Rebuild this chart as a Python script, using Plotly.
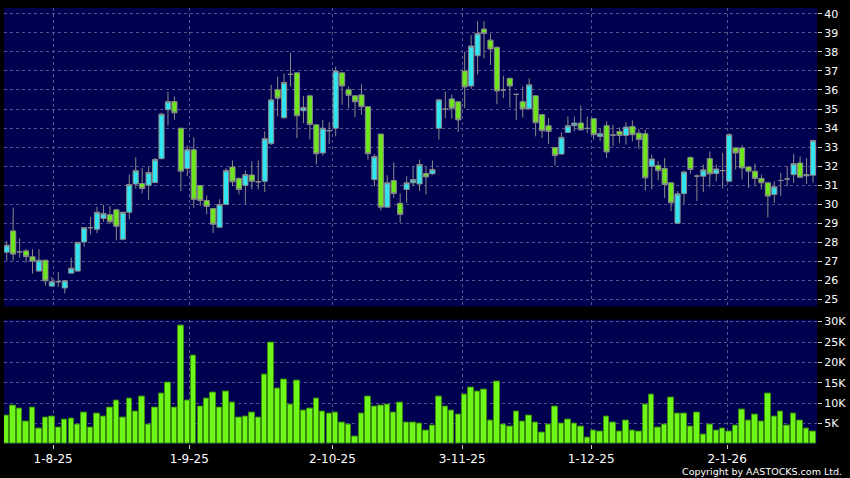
import plotly.graph_objects as go

# ---------------- data ----------------
open_ = [27.47, 28.59, 27.49, 27.54, 27.23, 26.48, 27.05, 25.69, 25.92, 25.59,
         26.37, 26.48, 28.01, 28.76, 28.68, 29.25, 29.44, 29.70, 28.15, 29.57,
         31.06, 31.08, 30.99, 31.14, 32.39, 34.96, 35.39, 33.99, 31.87, 32.86,
         30.98, 30.19, 29.77, 28.78, 29.98, 31.95, 31.35, 30.98, 31.53, 31.17,
         31.20, 33.18, 36.01, 34.54, 36.82, 36.90, 34.91, 35.69, 34.17, 32.69,
         33.86, 33.99, 36.90, 36.01, 35.69, 35.74, 35.12, 31.29, 33.68, 29.84,
         31.24, 30.04, 30.77, 31.12, 31.06, 31.61, 31.59, 33.99, 34.99, 35.53,
         35.38, 37.00, 36.21, 37.80, 39.20, 38.62, 38.24, 36.00, 36.61, 35.77,
         35.38, 35.01, 35.69, 34.70, 34.12, 32.98, 32.63, 33.77, 34.12, 34.26,
         33.98, 34.49, 33.56, 34.12, 33.63, 33.82, 33.61, 34.08, 33.73, 33.70,
         31.99, 32.03, 31.87, 31.12, 28.99, 30.56, 32.45, 31.47, 31.47, 32.39,
         31.61, 31.76, 31.20, 32.95, 32.95, 31.95, 31.73, 31.35, 31.12, 30.51,
         31.24, 31.32, 31.55, 32.16, 31.49, 31.52]
high = [28.06, 29.81, 28.20, 27.64, 27.63, 27.63, 27.08, 26.18, 26.44, 26.00,
        27.19, 28.00, 28.78, 29.32, 29.86, 29.95, 29.91, 29.75, 29.60, 31.55,
        32.46, 31.90, 31.97, 32.42, 34.80, 35.92, 35.65, 34.00, 33.09, 33.51,
        31.00, 30.46, 29.80, 30.26, 31.90, 32.29, 31.40, 31.78, 32.25, 32.29,
        33.82, 36.27, 36.70, 36.87, 37.96, 36.95, 35.69, 35.75, 34.20, 34.43,
        34.31, 37.23, 36.95, 36.18, 35.72, 36.30, 35.15, 32.63, 33.70, 31.52,
        32.20, 30.56, 31.47, 31.99, 32.34, 31.99, 32.29, 35.53, 35.92, 35.77,
        35.40, 38.01, 38.88, 39.62, 39.62, 38.97, 38.30, 36.75, 36.65, 35.80,
        36.18, 36.61, 35.72, 34.75, 34.52, 33.00, 33.77, 34.61, 34.61, 35.18,
        34.61, 34.50, 33.99, 34.35, 34.17, 34.03, 34.31, 34.40, 33.94, 33.91,
        32.60, 32.25, 32.42, 31.15, 30.68, 31.76, 32.51, 31.55, 32.08, 32.77,
        32.08, 32.69, 33.73, 33.00, 33.09, 32.00, 32.13, 31.55, 31.15, 31.20,
        31.64, 31.99, 32.63, 32.51, 32.42, 33.39]
low = [27.02, 27.02, 27.19, 26.93, 26.35, 26.45, 25.71, 25.65, 25.65, 25.30,
       26.35, 26.45, 27.76, 28.41, 28.47, 29.07, 28.95, 28.10, 28.10, 29.20,
       30.82, 30.56, 30.23, 31.10, 32.35, 34.14, 34.43, 30.68, 31.47, 29.81,
       29.90, 29.46, 28.48, 28.75, 29.95, 30.94, 30.51, 30.02, 30.77, 30.77,
       30.64, 33.10, 34.61, 34.50, 36.18, 33.47, 34.26, 33.39, 32.08, 32.55,
       33.16, 33.56, 35.22, 35.04, 34.57, 34.70, 32.34, 30.94, 29.67, 29.81,
       30.33, 29.02, 30.07, 30.94, 30.68, 30.51, 31.55, 33.39, 34.52, 34.49,
       33.79, 35.04, 36.06, 36.82, 37.66, 37.31, 35.25, 35.57, 35.08, 34.43,
       34.55, 34.98, 33.56, 33.47, 33.16, 32.03, 32.60, 33.74, 33.82, 33.85,
       33.73, 33.39, 33.30, 32.42, 33.04, 33.21, 33.13, 33.30, 32.90, 30.72,
       30.77, 31.26, 30.33, 29.63, 28.97, 30.02, 31.59, 30.16, 30.64, 30.89,
       31.20, 30.82, 31.15, 31.82, 31.29, 30.85, 30.94, 30.77, 29.28, 30.07,
       30.42, 30.94, 31.12, 31.38, 31.06, 31.12]
close = [27.84, 27.37, 27.49, 27.24, 27.00, 27.05, 25.97, 25.92, 25.92, 25.97,
         26.63, 27.99, 28.76, 28.76, 29.57, 29.51, 29.07, 28.83, 29.57, 31.03,
         31.76, 30.82, 31.66, 32.34, 34.73, 35.39, 34.80, 31.73, 32.86, 30.25,
         30.19, 29.88, 28.94, 29.98, 31.76, 31.17, 30.77, 31.55, 31.20, 31.17,
         33.44, 35.48, 35.57, 36.39, 36.82, 34.64, 35.08, 34.19, 32.65, 33.99,
         33.86, 37.00, 36.21, 35.72, 35.38, 35.12, 32.65, 32.50, 29.84, 31.12,
         30.56, 29.46, 31.12, 31.29, 32.08, 31.43, 31.82, 35.48, 34.99, 35.04,
         34.43, 36.16, 38.31, 38.97, 38.97, 38.15, 35.95, 36.00, 36.21, 35.77,
         35.01, 36.27, 34.28, 33.86, 33.82, 32.55, 33.51, 34.12, 34.26, 33.91,
         33.98, 33.65, 33.70, 32.74, 33.63, 33.61, 34.05, 33.65, 33.39, 31.38,
         32.37, 31.76, 31.03, 30.07, 30.54, 31.69, 31.82, 31.47, 31.80, 31.59,
         31.85, 31.76, 33.65, 32.69, 31.90, 31.73, 31.35, 31.12, 30.42, 30.91,
         31.24, 31.32, 32.13, 31.41, 31.55, 33.34]
volume_k = [6.95, 9.47, 8.58, 5.41, 8.98, 3.78, 6.38, 6.71, 4.10, 6.06,
            6.22, 4.67, 7.60, 4.02, 7.44, 6.79, 8.82, 10.53, 6.55, 11.10,
            7.93, 11.75, 4.84, 8.82, 12.40, 15.00, 8.98, 29.15, 10.53, 21.75,
            9.23, 11.02, 12.72, 8.90, 12.80, 10.12, 6.38, 6.63, 7.77, 6.38,
            16.95, 24.92, 13.54, 15.73, 9.71, 15.57, 8.25, 8.66, 11.02, 7.85,
            7.51, 7.68, 5.24, 4.67, 1.83, 7.44, 11.67, 9.15, 9.47, 9.63,
            7.68, 10.04, 5.24, 5.24, 4.92, 3.37, 4.59, 11.59, 9.23, 8.25,
            7.11, 12.15, 13.94, 12.89, 13.29, 5.73, 15.24, 4.76, 4.19, 7.85,
            5.49, 7.03, 5.24, 2.73, 4.76, 9.07, 5.08, 5.98, 5.00, 4.27,
            1.59, 3.22, 3.05, 6.71, 5.16, 2.97, 5.66, 3.22, 2.97, 9.56,
            12.07, 4.02, 4.76, 11.34, 7.37, 7.44, 4.34, 7.60, 2.32, 4.67,
            3.37, 3.78, 3.13, 4.59, 8.41, 5.73, 7.11, 5.57, 12.32, 6.71,
            7.85, 4.44, 7.37, 5.73, 3.78, 3.05]

date_labels = ["1-8-25", "1-9-25", "2-10-25", "3-11-25", "1-12-25", "2-1-26"]
date_label_index = [7.2, 28.3, 50.5, 70.6, 90.6, 111.7]
price_ticks = list(range(25, 41))
vol_ticks = [5, 10, 15, 20, 25, 30]
vol_tick_text = ["5K", "10K", "15K", "20K", "25K", "30K"]

# ---------------- styling ----------------
NAVY = "#000050"
GRID = "#55558c"
CYAN = "#30e4f2"
GREEN = "#6ee61e"
WICK = "#8a8a8a"
VOL = "#6ef51a"
VOL_EDGE = "#3a8a0c"
FONT = "DejaVu Sans"

x = list(range(len(open_)))

fig = go.Figure()
fig.add_trace(go.Candlestick(
    x=x, open=open_, high=high, low=low, close=close,
    increasing=dict(fillcolor=CYAN, line=dict(color=WICK, width=1)),
    decreasing=dict(fillcolor=GREEN, line=dict(color=WICK, width=1)),
    whiskerwidth=0, xaxis="x", yaxis="y", showlegend=False,
))
fig.add_trace(go.Bar(
    x=x, y=volume_k, width=0.84,
    marker=dict(color=VOL, line=dict(color=VOL_EDGE, width=1)),
    xaxis="x2", yaxis="y2", showlegend=False,
))

axis_common = dict(showgrid=True, gridcolor=GRID, griddash="3px,3px", gridwidth=1,
                   zeroline=False, showline=False)

fig.update_layout(
    width=850, height=478,
    margin=dict(l=4, r=33, t=6, b=34),
    paper_bgcolor="black", plot_bgcolor=NAVY,
    showlegend=False,
    boxgap=0.15, boxgroupgap=0.06, bargap=0,
    xaxis=dict(domain=[0, 1], anchor="y", range=[-0.42, 125.62],
               tickvals=date_label_index, showticklabels=False, ticks="",
               rangeslider=dict(visible=False), **axis_common),
    xaxis2=dict(domain=[0, 1], anchor="y2", matches="x",
                tickvals=date_label_index, ticktext=date_labels,
                ticks="outside", ticklen=4, tickcolor="#cccccc",
                tickfont=dict(color="white", size=12, family=FONT),
                **axis_common),
    yaxis=dict(domain=[0.3151, 1], anchor="x", side="right",
               range=[24.61, 40.31], tickvals=price_ticks,
               ticks="outside", ticklen=4, tickcolor="#cccccc",
               tickfont=dict(color="white", size=11, family=FONT),
               **axis_common),
    yaxis2=dict(domain=[0, 0.2854], anchor="x2", side="right",
                range=[0, 30.5], tickvals=vol_ticks, ticktext=vol_tick_text,
                ticks="outside", ticklen=4, tickcolor="#cccccc",
                tickfont=dict(color="white", size=11, family=FONT),
                **axis_common),
    annotations=[dict(text="Copyright by AASTOCKS.com Ltd.", xref="paper", yref="paper",
                      x=1.0328, y=-0.0632, xanchor="right", yanchor="middle",
                      showarrow=False, font=dict(color="white", size=9.5, family=FONT))],
)

fig.write_html(
    "out.html",
    config={"displayModeBar": False},
    post_script="document.body.style.margin='0';document.body.style.background='black';",
)
